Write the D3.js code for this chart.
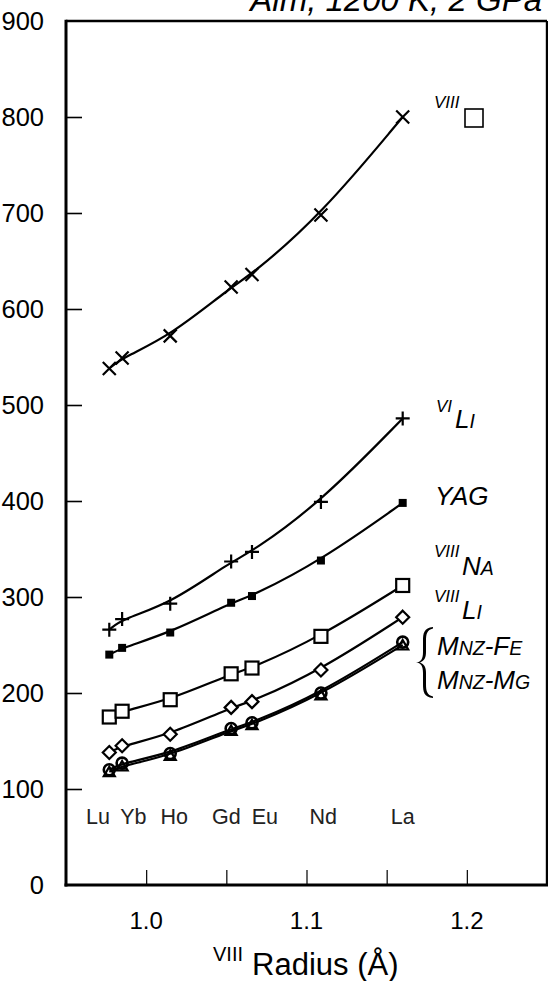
<!DOCTYPE html>
<html><head><meta charset="utf-8">
<script src="https://cdn.jsdelivr.net/npm/d3@7"></script>
<style>
body{margin:0;background:#fff}
svg{display:block}
text{font-family:"Liberation Sans",Arial,Helvetica,sans-serif;fill:#000}
</style>
</head><body>
<svg id="chart" width="548" height="981"></svg>
<script>
// ---------- data ----------
const elements = ["Lu","Yb","Ho","Gd","Eu","Nd","La"];
const radii = [0.977,0.985,1.015,1.053,1.066,1.109,1.160];
const elementLabelRadii = [0.970,0.992,1.0175,1.050,1.074,1.1105,1.160];
const vacancyVIII = [538,549,572,623,636,698,800];
const liVI   = [266,277,293,337,347,399,486];
const yag    = [240,247,263,294,301,338,398];
const naVIII = [175,181,193,220,226,259,312];
const liVIII = [138,145,157,185,191,224,279];
const mnzFe  = [120,127,137,163,169,200,253];
const mnzMg  = [118,124,135,161,167,198,250];
const yTicks = [0,100,200,300,400,500,600,700,800,900];
const xTicks = [1.0,1.05,1.1,1.15,1.2];
const xTickLabels = ["1.0","","1.1","","1.2"];
const title = "Alm, 1200 K, 2 GPa";

const series = [
  {values: vacancyVIII, marker:"x"},
  {values: liVI, marker:"plus"},
  {values: yag, marker:"fsquare"},
  {values: naVIII, marker:"square"},
  {values: liVIII, marker:"diamond"},
  {values: mnzFe, marker:"circle"},
  {values: mnzMg, marker:"triangle"}
];

// ---------- scales ----------
const svg = d3.select("#chart");
const x = d3.scaleLinear().domain([0.95,1.25]).range([66,547]);
const y = d3.scaleLinear().domain([0,900]).range([885,21]);
const x0 = x.range()[0], x1 = x.range()[1], yB = y(0), yT = y(900);

// title
svg.append("text").attr("x",542).attr("y",11).attr("text-anchor","end")
  .attr("font-size",33).attr("font-style","italic").text(title);

// ---------- axes ----------
const yAxis = d3.axisLeft(y).tickValues(yTicks.filter(v=>v>0&&v<900)).tickSizeInner(-16).tickSizeOuter(0).tickFormat("");
svg.append("g").attr("transform",`translate(${x0},0)`).call(yAxis)
  .call(g=>{g.select(".domain").remove();g.selectAll("line").attr("stroke","#000").attr("stroke-width",1.6);});
svg.append("g").selectAll("text").data(yTicks).join("text")
  .attr("x",44).attr("y",d=>y(d)).attr("dy","0.35em").attr("text-anchor","end")
  .attr("font-size",25.5).text(d=>d);

const xAxis = d3.axisBottom(x).tickValues(xTicks).tickSizeInner(-15).tickSizeOuter(0).tickFormat("");
svg.append("g").attr("transform",`translate(0,${yB})`).call(xAxis)
  .call(g=>{g.select(".domain").remove();g.selectAll("line").attr("stroke","#000").attr("stroke-width",1.2);});
svg.append("g").selectAll("text").data(xTicks).join("text")
  .attr("x",d=>x(d)).attr("y",929).attr("text-anchor","middle").attr("font-size",24)
  .text((d,i)=>xTickLabels[i]);

// frame
const fr = svg.append("g").attr("stroke","#000").attr("fill","none");
fr.append("line").attr("x1",x0).attr("x2",x1).attr("y1",yT).attr("y2",yT).attr("stroke-width",2.6);
fr.append("line").attr("x1",x1).attr("x2",x1).attr("y1",yT).attr("y2",yB).attr("stroke-width",2.4);
fr.append("line").attr("x1",x0).attr("x2",x0).attr("y1",yT-1.3).attr("y2",yB+1.5).attr("stroke-width",3);
fr.append("line").attr("x1",x0-1.5).attr("x2",x1+1.2).attr("y1",yB).attr("y2",yB).attr("stroke-width",3);

// axis title
const at = svg.append("text").attr("x",213).attr("y",975);
at.append("tspan").attr("font-size",20).attr("dy",-14).text("VIII");
at.append("tspan").attr("font-size",31).attr("dy",14).attr("dx",9).text("Radius (Å)");

// element labels
svg.append("g").selectAll("text").data(elements).join("text")
  .attr("x",(d,i)=>x(elementLabelRadii[i])).attr("y",824).attr("text-anchor","middle")
  .attr("font-size",21.5).style("fill","#222").text(d=>d);

// ---------- curves ----------
const line = d3.line().x((d,i)=>x(radii[i])).y(d=>y(d)).curve(d3.curveBasis);
svg.append("g").selectAll("path").data(series).join("path")
  .attr("d",s=>line(s.values)).attr("fill","none").attr("stroke","#000").attr("stroke-width",2.2);

// ---------- markers ----------
function marker(g, type){
  const sw = 2.2;
  switch(type){
    case "x": g.append("path").attr("d","M-6.5,-6.5L6.5,6.5M-6.5,6.5L6.5,-6.5").attr("stroke","#000").attr("stroke-width",sw).attr("fill","none"); break;
    case "plus": g.append("path").attr("d","M-7,0L7,0M0,-7L0,7").attr("stroke","#000").attr("stroke-width",sw).attr("fill","none"); break;
    case "fsquare": g.append("rect").attr("x",-4).attr("y",-4).attr("width",8).attr("height",8).attr("fill","#000"); break;
    case "square": g.append("rect").attr("x",-6.5).attr("y",-6.5).attr("width",13).attr("height",13).attr("fill","#fff").attr("stroke","#000").attr("stroke-width",2.2); break;
    case "diamond": g.append("path").attr("d","M0,-6.5L6.5,0L0,6.5L-6.5,0Z").attr("fill","#fff").attr("stroke","#000").attr("stroke-width",2.2); break;
    case "circle": g.append("circle").attr("r",5.5).attr("fill","none").attr("stroke","#000").attr("stroke-width",2.6); break;
    case "triangle": g.append("path").attr("d","M0,-5L5.5,4.5L-5.5,4.5Z").attr("fill","none").attr("stroke","#000").attr("stroke-width",2.2); break;
  }
}
series.forEach(s=>{
  const g = svg.append("g");
  s.values.forEach((v,i)=>{
    const m = g.append("g").attr("transform",`translate(${x(radii[i])},${y(v)})`);
    marker(m, s.marker);
  });
});

// ---------- right-hand labels ----------
function scLabel(xp, yp, parts){
  const t = svg.append("text").attr("x",xp).attr("y",yp).attr("font-style","italic");
  parts.forEach(p=>t.append("tspan").attr("font-size",p[1]).text(p[0]));
  return t;
}
function sup(xp, yp, s){
  svg.append("text").attr("x",xp).attr("y",yp).attr("font-style","italic").attr("font-size",17).text(s);
}
const B=26, S=19.5;
sup(434,108,"VIII");
svg.append("rect").attr("x",465).attr("y",109).attr("width",18).attr("height",18).attr("fill","none").attr("stroke","#000").attr("stroke-width",1.6);
sup(436,412,"VI"); scLabel(455,428,[["L",B],["I",S]]);
scLabel(435,505,[["YAG",26]]);
sup(434,557,"VIII"); scLabel(462,575,[["N",B],["A",S]]);
sup(434,602,"VIII"); scLabel(462,619,[["L",B],["I",S]]);
scLabel(437,655,[["M",B],["NZ",S],["-",B],["F",B],["E",S]]);
scLabel(437,689,[["M",B],["NZ",S],["-",B],["M",B],["G",S]]);
// brace (filled, tapered)
svg.append("path")
  .attr("d","M433,627 C424,628 423,633 423,641 L423,652 C423,659 421,662 416,662.5 C421,663 423,666 423,673 L423,684 C423,692 424,697 433,698 L433,696.5 C427,695 426,691 426,684 L426,673 C426,667 424,664 420,662.5 C424,661 426,658 426,652 L426,641 C426,634 427,630 433,628.5 Z")
  .attr("fill","#000").attr("stroke","none");
</script>
</body></html>
